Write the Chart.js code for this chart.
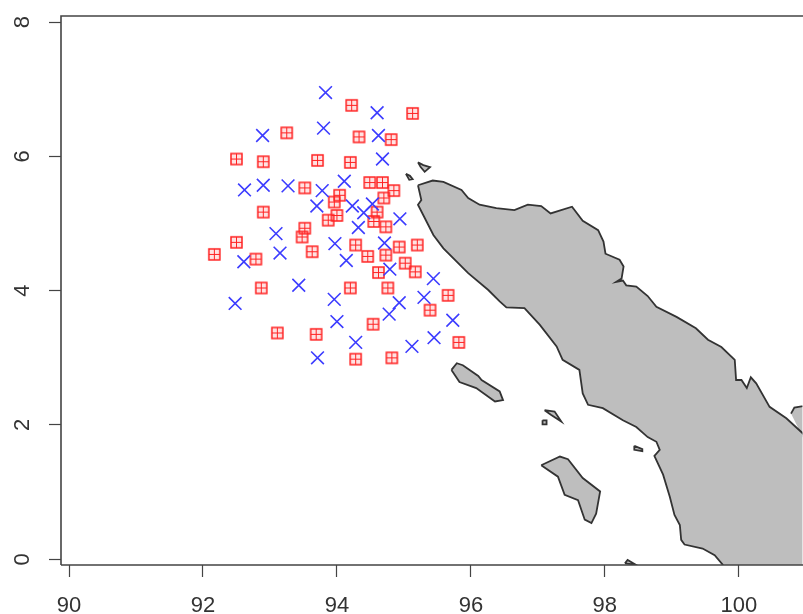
<!DOCTYPE html>
<html>
<head>
<meta charset="utf-8">
<title>Sumatra points</title>
<script src="https://cdn.jsdelivr.net/npm/chart.js@4/dist/chart.umd.min.js"></script>
<style>
html, body { margin: 0; padding: 0; background: #fff; }
#wrap { width: 803px; height: 614px; overflow: hidden; }
canvas { filter: blur(0.5px); }
</style>
</head>
<body>
<div id="wrap"><canvas id="map" width="813" height="614"></canvas></div>
<script>
var xTicks = [90, 92, 94, 96, 98, 100];
var yTicks = [0, 2, 4, 6, 8];

// blue crosses
var crossLon = [93.83,94.60,93.80,92.89,94.62,94.68,94.11,92.62,92.90,93.27,93.78,93.70,94.23,94.53,94.40,94.94,94.32,93.09,93.97,94.71,93.15,92.61,94.14,94.79,95.44,93.43,92.48,93.96,94.93,95.30,94.78,94.00,95.73,95.45,95.12,94.28,93.71];
var crossLat = [6.95,6.65,6.42,6.31,6.31,5.96,5.63,5.50,5.57,5.56,5.49,5.26,5.26,5.29,5.16,5.07,4.94,4.85,4.70,4.71,4.56,4.43,4.45,4.32,4.18,4.08,3.81,3.87,3.82,3.90,3.65,3.54,3.56,3.30,3.17,3.23,3.00];

// red squares
var squareLon = [94.22,95.13,93.25,94.33,94.81,92.50,92.90,93.71,94.20,94.49,94.68,94.85,94.70,93.52,94.04,93.96,92.90,94.60,94.00,93.87,94.55,94.73,93.52,93.48,92.50,92.17,92.79,93.63,94.28,94.46,94.73,94.93,95.20,95.02,95.17,94.62,92.87,94.20,94.76,95.66,95.39,94.54,93.11,93.69,95.82,94.28,94.82];
var squareLat = [6.76,6.64,6.35,6.29,6.25,5.96,5.92,5.94,5.91,5.61,5.61,5.49,5.38,5.53,5.42,5.32,5.17,5.17,5.12,5.05,5.03,4.95,4.93,4.80,4.72,4.54,4.47,4.58,4.68,4.51,4.53,4.65,4.68,4.41,4.28,4.27,4.04,4.04,4.04,3.93,3.71,3.50,3.37,3.35,3.23,2.98,3.00];

// coastlines, lon and lat
var sumatraLon = [95.21,95.43,95.59,95.86,95.96,96.13,96.38,96.65,96.85,97.05,97.19,97.51,97.67,97.90,97.98,98.01,98.22,98.28,98.25,98.17,98.27,98.32,98.47,98.64,98.77,99.07,99.36,99.54,99.74,99.94,99.96,100.04,100.12,100.18,100.26,100.46,100.71,100.95,101.50,101.50,99.86,99.76,99.64,99.46,99.19,99.14,99.12,99.04,98.97,98.87,98.74,98.82,98.77,98.64,98.47,98.27,97.97,97.75,97.67,97.62,97.37,97.28,97.03,96.80,96.53,96.43,96.26,95.96,95.59,95.44,95.21,95.26,95.21];
var sumatraLat = [5.57,5.64,5.62,5.50,5.38,5.28,5.23,5.20,5.28,5.26,5.15,5.25,5.04,4.90,4.73,4.55,4.46,4.36,4.18,4.13,4.15,4.08,4.06,3.92,3.76,3.61,3.44,3.27,3.16,2.97,2.67,2.67,2.55,2.71,2.62,2.27,2.10,1.88,1.33,-0.6,-0.6,-0.08,0.06,0.16,0.22,0.29,0.51,0.66,0.93,1.26,1.54,1.63,1.75,1.82,1.97,2.07,2.25,2.30,2.47,2.82,2.97,3.17,3.49,3.74,3.75,3.84,4.01,4.26,4.63,4.83,5.28,5.35,5.57];
var simeulueLon = [95.71,95.79,95.88,96.11,96.16,96.43,96.48,96.36,96.08,95.83,95.71];
var simeulueLat = [2.82,2.92,2.89,2.73,2.67,2.50,2.37,2.35,2.55,2.64,2.82];
var niasLon = [97.05,97.33,97.45,97.67,97.93,97.87,97.80,97.70,97.60,97.40,97.30,97.05];
var niasLat = [1.40,1.53,1.49,1.21,1.01,0.68,0.54,0.59,0.88,0.96,1.23,1.40];
var banyakLon = [97.10,97.25,97.35,97.20,97.10];
var banyakLat = [2.22,2.20,2.05,2.15,2.22];
var tuangkuLon = [97.07,97.13,97.13,97.07,97.07];
var tuangkuLat = [2.07,2.07,2.01,2.01,2.07];
var musalaLon = [98.44,98.56,98.56,98.44,98.44];
var musalaLat = [1.69,1.64,1.61,1.63,1.69];
var batuLon = [98.30,98.34,98.46,98.30];
var batuLat = [-0.06,-0.01,-0.08,-0.06];
var wehLon = [95.21,95.29,95.39,95.31,95.25,95.21];
var wehLat = [5.91,5.87,5.84,5.77,5.84,5.91];
var breuehLon = [95.03,95.09,95.13,95.08,95.03];
var breuehLat = [5.74,5.71,5.66,5.65,5.74];
var rupatLon = [100.78,100.83,101.50,101.50,100.95,100.88,100.78];
var rupatLat = [2.17,2.26,2.37,1.33,1.82,1.97,2.17];

function pairs(xs, ys) {
    var out = [];
    for (var i = 0; i < xs.length; i++) {
        out.push({ x: xs[i], y: ys[i] });
    }
    return out;
}

function land(xs, ys) {
    return {
        type: 'line',
        data: pairs(xs, ys),
        parsing: false,
        showLine: true,
        fill: 'shape',
        backgroundColor: '#bebebe',
        borderColor: '#333333',
        borderWidth: 1.8,
        pointRadius: 0,
        tension: 0
    };
}

// the red marker: a square with a grid inside
function squareMarker() {
    var c = document.createElement('canvas');
    c.width = 15;
    c.height = 15;
    var g = c.getContext('2d');
    g.fillStyle = 'rgba(255,50,50,0.14)';
    g.fillRect(2, 2, 11, 11);
    g.strokeStyle = '#ff2222';
    g.lineWidth = 1.5;
    g.strokeRect(2, 2, 11, 11);
    g.lineWidth = 1;
    g.beginPath();
    g.moveTo(2, 7.5); g.lineTo(13, 7.5);
    g.moveTo(7.5, 2); g.lineTo(7.5, 13);
    g.stroke();
    return c;
}

var frame = {
    id: 'frame',
    afterDatasetsDraw: function (chart) {
        var a = chart.chartArea, ctx = chart.ctx;
        ctx.save();
        ctx.strokeStyle = '#444';
        ctx.lineWidth = 1.6;
        ctx.beginPath();
        ctx.moveTo(a.left, a.bottom);
        ctx.lineTo(a.left, a.top);
        ctx.lineTo(a.right + 2, a.top);
        ctx.moveTo(a.left, a.bottom);
        ctx.lineTo(a.right + 2, a.bottom);
        ctx.stroke();
        ctx.restore();
    }
};

var datasets = [
    land(sumatraLon, sumatraLat),
    land(rupatLon, rupatLat),
    land(simeulueLon, simeulueLat),
    land(niasLon, niasLat),
    land(banyakLon, banyakLat),
    land(tuangkuLon, tuangkuLat),
    land(musalaLon, musalaLat),
    land(batuLon, batuLat),
    land(wehLon, wehLat),
    land(breuehLon, breuehLat),
    {
        type: 'scatter',
        data: pairs(crossLon, crossLat),
        pointStyle: 'crossRot',
        pointRadius: 9,
        pointBorderColor: '#3c3cff',
        pointBorderWidth: 1.6,
        showLine: false
    },
    {
        type: 'scatter',
        data: pairs(squareLon, squareLat),
        pointStyle: squareMarker(),
        pointRadius: 6,
        showLine: false
    }
];

new Chart(document.getElementById('map'), {
    data: { datasets: datasets },
    plugins: [frame],
    options: {
        responsive: false,
        animation: false,
        layout: { padding: { top: 16, right: 0, bottom: 0, left: 0 } },
        plugins: { legend: { display: false }, tooltip: { enabled: false } },
        scales: {
            x: {
                type: 'linear',
                min: 89.88,
                max: 100.95,
                afterBuildTicks: function (s) { s.ticks = xTicks.map(function (v) { return { value: v }; }); },
                afterFit: function (s) { s.height = 49; s.paddingLeft = 0; s.paddingRight = 0; },
                grid: { drawOnChartArea: false, tickLength: 12, color: '#444', tickWidth: 1.2 },
                border: { display: false },
                ticks: {
                    autoSkip: false,
                    maxRotation: 0,
                    padding: 16,
                    color: '#333',
                    font: { family: 'Liberation Sans', size: 22 }
                }
            },
            y: {
                type: 'linear',
                min: -0.085,
                max: 8.09,
                afterBuildTicks: function (s) { s.ticks = yTicks.map(function (v) { return { value: v }; }); },
                afterFit: function (s) { s.width = 61; s.paddingTop = 0; s.paddingBottom = 0; },
                grid: { drawOnChartArea: false, tickLength: 12, color: '#444', tickWidth: 1.2 },
                border: { display: false },
                ticks: {
                    autoSkip: false,
                    minRotation: 90,
                    maxRotation: 90,
                    crossAlign: 'center',
                    padding: 20,
                    color: '#333',
                    font: { family: 'Liberation Sans', size: 22 }
                }
            }
        }
    }
});
</script>
</body>
</html>
